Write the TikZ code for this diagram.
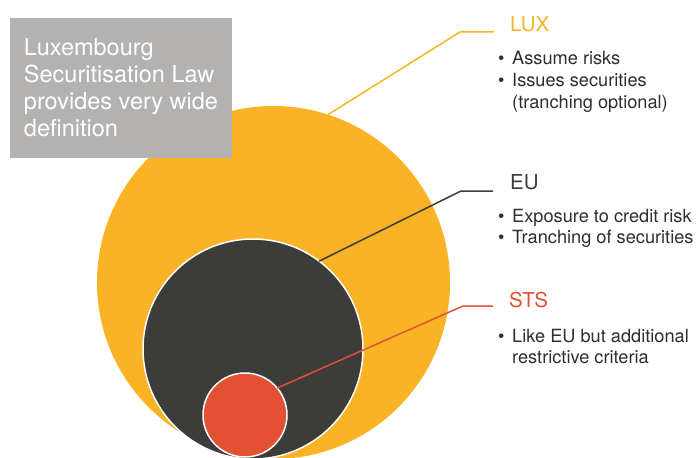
\documentclass[tikz,border=0pt]{standalone}
\usepackage{fontspec}
\setmainfont{TeX Gyre Heros}
\usetikzlibrary{positioning}
\definecolor{luxorange}{HTML}{F9B325}
\definecolor{eudark}{HTML}{3C3C3B}
\definecolor{stsred}{HTML}{E35033}
\definecolor{boxgray}{HTML}{B3B2B1}
\definecolor{textdark}{HTML}{2E2E2D}
\tikzset{
    x=1pt, y=-1pt, % pixel coordinates, origin at the top left
    ring/.style={circle, inner sep=0pt, outer sep=0pt}, % the nested circles
    rim/.style={draw=white, line width=1.5pt}, % white edge of the inner circles
    leader/.style={line width=1.5pt}, % connectors from the circles to the labels
    heading/.style={anchor=base west, inner sep=0pt, font=\fontsize{20.5}{22}\selectfont},
    bullets/.style={anchor=base west, inner sep=0pt, text=textdark, font=\fontsize{18.2}{21.7}\selectfont},
    defbox/.style={anchor=north west, fill=boxgray, text=white, outer sep=0pt,
        minimum width=222pt, minimum height=140pt, inner xsep=10pt,
        align=left, font=\fontsize{23.5}{27}\selectfont},
}
\newcommand{\dotitem}{\makebox[14pt][l]{\textbullet}} % bullet with its gap

\begin{document}
\begin{tikzpicture}
    \useasboundingbox (0,0) rectangle (700,457);
    % circles, all resting on the bottom edge
    \node[ring, fill=luxorange, minimum size=353pt] (lux) at (273.5,282.5) {};
    \node[ring, rim, fill=eudark, minimum size=220pt] (eu) at (253,349) {};
    \node[ring, rim, fill=stsred, minimum size=84pt] (sts) at (245,415) {};
    \node[defbox] (law) at (10,18) {Luxembourg\\Securitisation Law\\provides very wide\\definition};
    % connectors
    \coordinate (luxbend) at (460,32);
    \coordinate (luxend) at (494,32);
    \coordinate (eubend) at (461,191);
    \coordinate (euend) at (493,191);
    \coordinate (stsbend) at (463,306);
    \coordinate (stsend) at (493,306);
    \draw[leader, luxorange] (lux.72) -- (luxbend) -- (luxend);
    \draw[leader, eudark] (eu.53) -- (eubend) -- (euend);
    \draw[leader, stsred] (sts.40) -- (stsbend) -- (stsend);
    % labels
    \node[heading, text=luxorange] (luxhead) at (510,32) {LUX};
    \node[heading, text=eudark] (euhead) at (510,189) {EU};
    \node[heading, text=stsred] (stshead) at (509,307) {STS};
    \node[bullets] (luxlist) at (498,65) {\begin{tabular}[t]{@{}l@{}}
        \dotitem Assume risks\\ \dotitem Issues securities\\ \hspace{14pt}(tranching optional)\end{tabular}};
    \node[bullets] (eulist) at (498,222) {\begin{tabular}[t]{@{}l@{}}
        \dotitem Exposure to credit risk\\ \dotitem Tranching of securities\end{tabular}};
    \node[bullets] (stslist) at (498,342) {\begin{tabular}[t]{@{}l@{}}
        \dotitem Like EU but additional\\ \hspace{14pt}restrictive criteria\end{tabular}};
\end{tikzpicture}
\end{document}
